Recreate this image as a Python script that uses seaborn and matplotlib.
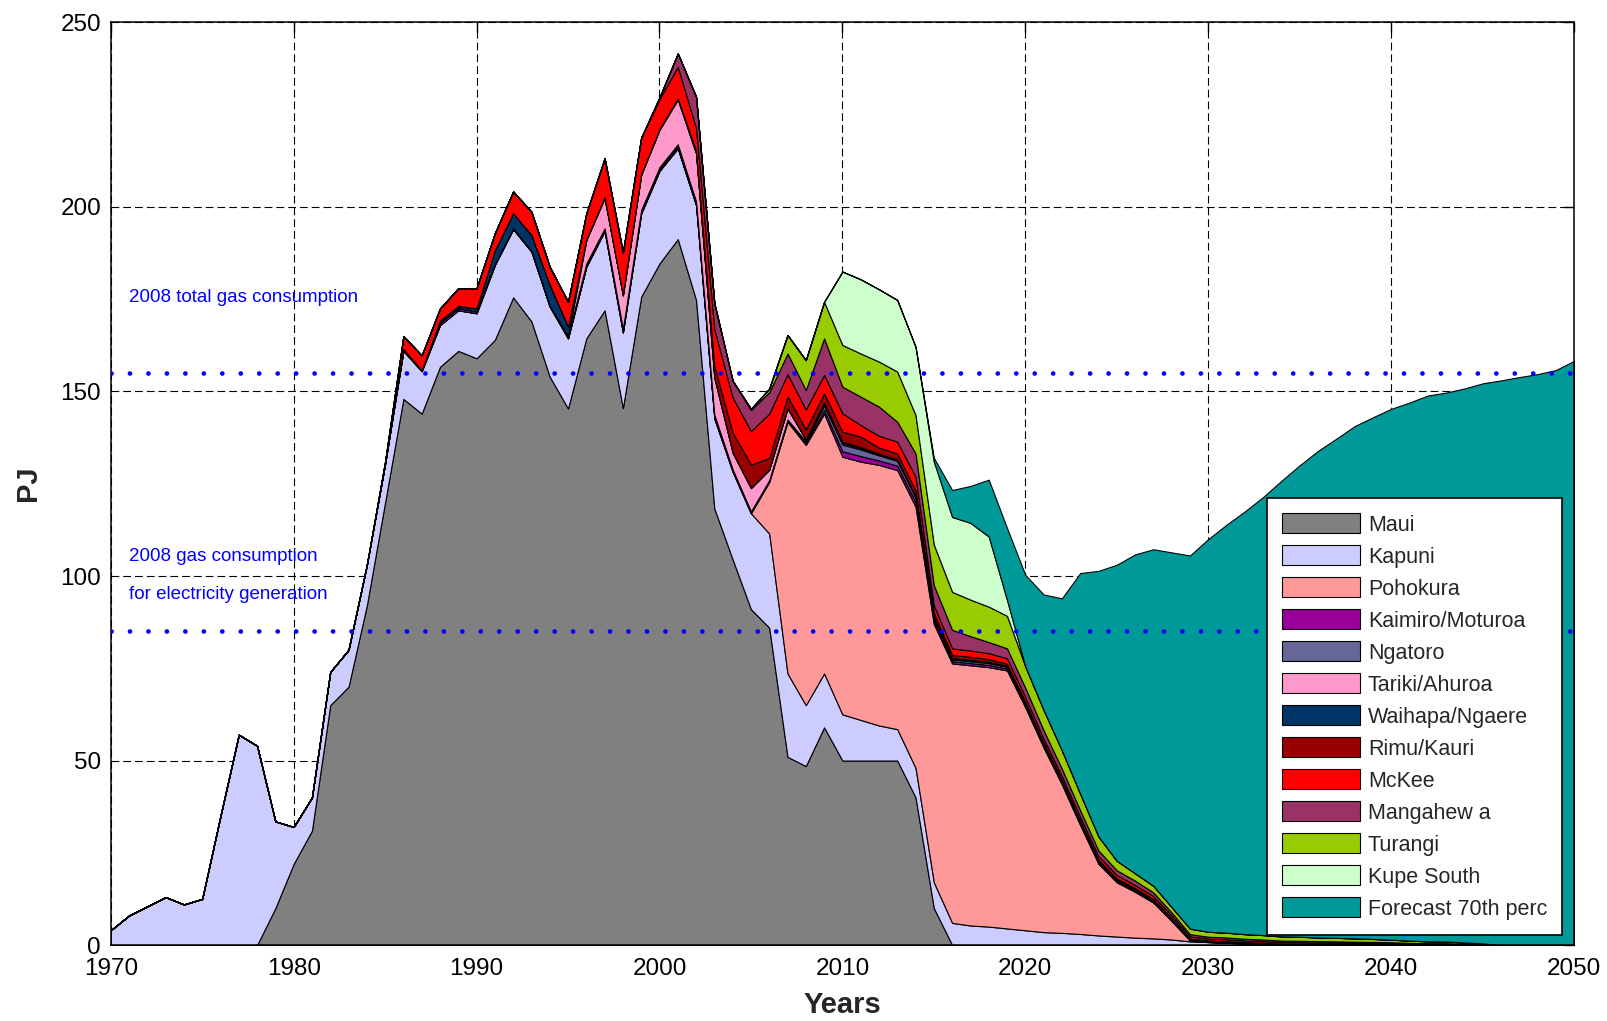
import numpy as np
import matplotlib
matplotlib.use("Agg")
import matplotlib.pyplot as plt
import seaborn as sns

# years covered by the chart
years = np.arange(1970, 2051)

# field production (PJ), each list starts at its own first year
maui_start = 1978
maui = [0, 10, 22, 31, 65, 70, 92, 120, 148, 144,
        156.7, 161, 159, 164, 175.5, 169, 154, 145.4, 164.4, 172,
        145.5, 175.7, 184.7, 191.3, 174.8, 118.3, 104.5, 91, 86, 51,
        48.5, 59, 50, 50, 50, 50, 40, 10, 0]

kapuni_start = 1970
kapuni = [4, 8, 10.5, 13, 11, 12.5, 35, 57, 54, 23.5,
          10, 9, 9, 10, 11, 10.5, 13, 11.5, 11.3, 11,
          12.2, 20.3, 18.5, 18.9, 19, 19, 19.4, 21.5, 20.5, 22.6,
          25.1, 24.6, 25.7, 24.4, 23.8, 26, 25.5, 22.6, 16.5, 14.6,
          12.5, 11, 9.5, 8.5, 8, 7, 6, 5.3, 5, 4.5,
          4, 3.5, 3.3, 3, 2.6, 2.3, 2, 1.8, 1.5, 1,
          0.8, 0.6, 0.4, 0.2, 0]

pohokura_start = 2005
pohokura = [0, 14, 68.2, 70.5, 70.4, 69.8, 70, 70.6, 70.2, 70.8,
            70, 70.3, 70.5, 70.3, 69.9, 60.4, 50, 40.2, 29.5, 19.4,
            14.7, 12.4, 9.7, 5, 0.2, 0]

kaimiro_start = 1985
kaimiro = [0, 0.5, 0.3, 0.7, 0.6, 0.5, 0.3, 0.2, 0.2, 0.2,
           0.4, 0.5, 0.4, 0.5, 0.5, 0.5, 0.6, 0.5, 0.5, 0.3,
           0.3, 0.3, 0.3, 0.5, 1.0, 1.5, 1.5, 1.2, 1.2, 1.2,
           0.8, 0.6, 0.6, 0.6, 0.5, 0.4, 0.4, 0.35, 0.3, 0.3,
           0.3, 0.3, 0.25, 0.2, 0.2, 0.2, 0.2, 0.2, 0.2, 0.2,
           0.15, 0.15, 0.15, 0.15, 0.1, 0.1, 0.1, 0.1, 0.1, 0.05,
           0.05, 0]

ngatoro_start = 1995
ngatoro = [0.3, 0.4, 0.3, 0.5, 0.4, 0.5, 0.5, 0.5, 0.5, 0.3,
           0.2, 0.2, 0.3, 0.5, 1.2, 1.8, 1.8, 1.4, 1.3, 1.2,
           0.8, 0.5, 0.5, 0.5, 0.5, 0.4, 0.3, 0.3, 0.3, 0.3,
           0.25, 0.25, 0.2, 0.2, 0.15, 0.15, 0.15, 0.1, 0.1, 0.1,
           0.1, 0.1, 0.05, 0.05, 0.05, 0.05, 0]

tariki_start = 1995
tariki = [0, 6.3, 8.2, 9, 9.5, 10.1, 12.1, 13, 10, 4.5,
          6.3, 2.8, 3, 0.4, 0.5, 0.4, 0.3, 0.2, 0.2, 0.2,
          0.2, 0.2, 0.2, 0.2, 0.1, 0.1, 0.1, 0.1, 0.1, 0.1,
          0.1, 0.1, 0.1, 0.1, 0]

waihapa_start = 1987
waihapa = [0, 0.5, 0.6, 0.8, 3.7, 4.1, 4.3, 5.7, 2.5, 0.2,
           0.2, 0.2, 0.2, 0.2, 0.3, 0.2, 0.2, 0.1, 0.1, 0.1,
           0.1, 0.1, 0.3, 0.4, 0.3, 0.2, 0.2, 0.2, 0.2, 0.2,
           0.2, 0.2, 0.1, 0.1, 0.1, 0.1, 0.1, 0.1, 0.1, 0.1,
           0.1, 0.1, 0]

rimu_start = 2002
rimu = [0.5, 3, 5.4, 6.3, 3.1, 3.2, 2.7, 2.5, 2.7, 2.9,
        1.7, 1.6, 1.5, 1, 0.8, 0.8, 0.7, 0.6, 0.5, 0.4,
        0.4, 0.4, 0.3, 0.3, 0.3, 0.3, 0.2, 0.2, 0.1, 0.1,
        0.1, 0.1, 0.1, 0.1, 0.1, 0.1, 0.1, 0.1, 0.1, 0]

mckee_start = 1984
mckee = [0, 0.5, 3.5, 4, 3.3, 4.8, 5.5, 4.6, 5.9, 6.3,
         4.9, 6.7, 7.1, 10.6, 11.5, 9.9, 8.1, 8.6, 6.2, 10,
         9.5, 9.1, 12, 6, 5.4, 5, 5, 3.1, 3.2, 3.2,
         3.8, 2, 1.8, 1.7, 1.6, 1.5, 1.3, 1.1, 1, 1,
         1, 0.9, 0.8, 0.8, 0.7, 0.6, 0.5, 0.5, 0.45, 0.45,
         0.4, 0.4, 0.35, 0.35, 0.3, 0.3, 0.25, 0.25, 0.2, 0.2,
         0.15, 0.1, 0]

mangahewa_start = 1999
mangahewa = [0, 0.5, 3.6, 8.5, 7, 4.5, 5.7, 5.8, 5.6, 5.3,
             9.9, 7.2, 7.7, 7.9, 5.4, 6.3, 5.5, 5, 3.9, 3,
             2.7, 2.5, 2.3, 2, 1.8, 1.5, 1.3, 1.2, 1, 0.8,
             0.6, 0.5, 0.5, 0.45, 0.45, 0.4, 0.4, 0.35, 0.35, 0.3,
             0.3, 0.25, 0.25, 0.2, 0.2, 0.15, 0.1, 0]

turangi_start = 2004
turangi = [0, 0.3, 1, 5, 8.1, 9.9, 11.3, 11.7, 12.2, 13.6,
           10.4, 11, 10.3, 9.9, 9.6, 8.8, 5.8, 5.5, 5, 4.5,
           3.8, 2.6, 2, 1.8, 1.5, 1.5, 1.35, 1.3, 1.25, 1.2,
           1.15, 1.1, 1.0, 0.95, 0.9, 0.8, 0.7, 0.6, 0.5, 0.45,
           0.35, 0.2, 0]

kupe_start = 2009
kupe = [0, 19.9, 20.1, 19.6, 19.4, 18.5, 22.5, 20.3, 20.8, 19,
        4.3, 0]

forecast_start = 2014
forecast = [0, 1, 7.3, 10, 15.4, 19.5, 24.8, 31.3, 41.2, 59.8,
            72, 80.2, 86.4, 91.2, 96.1, 101.1, 106.4, 110.55, 114.55, 118.7,
            123.45, 127.75, 131.85, 135.25, 138.8, 141.35, 143.85, 145.8, 147.9, 148.75,
            150.1, 151.75, 153, 153.9, 154.7, 155.8, 158.3]

names = ["Maui", "Kapuni", "Pohokura", "Kaimiro/Moturoa", "Ngatoro",
         "Tariki/Ahuroa", "Waihapa/Ngaere", "Rimu/Kauri", "McKee",
         "Mangahew a", "Turangi", "Kupe South", "Forecast 70th perc"]
colors = ["#808080", "#CCCCFF", "#FF9999", "#990099", "#666699",
          "#FF99CC", "#003366", "#990000", "#FF0000", "#993366",
          "#99CC00", "#CCFFCC", "#009999"]

# reference consumption levels (PJ)
total_2008 = 155
electricity_2008 = 85


def pad(start, vals):
    # put a field's values on the full year axis
    out = np.zeros(len(years))
    i = start - years[0]
    out[i:i + len(vals)] = vals
    return out


series = [pad(maui_start, maui), pad(kapuni_start, kapuni),
          pad(pohokura_start, pohokura), pad(kaimiro_start, kaimiro),
          pad(ngatoro_start, ngatoro), pad(tariki_start, tariki),
          pad(waihapa_start, waihapa), pad(rimu_start, rimu),
          pad(mckee_start, mckee), pad(mangahewa_start, mangahewa),
          pad(turangi_start, turangi), pad(kupe_start, kupe),
          pad(forecast_start, forecast)]

sns.set_style("white")
plt.rcParams['font.family'] = ['Liberation Sans', 'DejaVu Sans']

fig, ax = plt.subplots(figsize=(16.07, 10.21), dpi=100)
fig.subplots_adjust(left=0.0689, right=0.9795, top=0.978, bottom=0.0744)

ax.stackplot(years, *series, colors=colors, labels=names,
             edgecolor="black", linewidth=0.8, zorder=2)

# 2008 reference lines
for level in [total_2008, electricity_2008]:
    ax.axhline(level, color="#0000FF", linewidth=3.4,
               linestyle=(0, (0.01, 3.9)), dash_capstyle="round", zorder=5)

ax.text(1971, 175.5, "2008 total gas consumption", color="#0000FF",
        fontsize=13.5, va="center")
ax.text(1971, 105.3, "2008 gas consumption", color="#0000FF",
        fontsize=13.5, va="center")
ax.text(1971, 95, "for electricity generation", color="#0000FF",
        fontsize=13.5, va="center")

ax.set_xlim(1970, 2050)
ax.set_ylim(0, 250)
ax.set_xticks(np.arange(1970, 2051, 10))
ax.set_yticks(np.arange(0, 251, 50))
ax.grid(True, color="black", linestyle=(0, (7, 3.6)), linewidth=0.8)
ax.set_axisbelow(True)
ax.tick_params(direction="in", length=7, width=1, labelsize=17.5,
               top=True, right=True, colors="black")
ax.tick_params(axis="x", pad=9)
ax.tick_params(axis="y", pad=7)
for sp in ax.spines.values():
    sp.set_color("black")
    sp.set_linewidth(1.1)

ax.set_xlabel("Years", fontsize=21, fontweight="bold", labelpad=8)
ax.set_ylabel("PJ", fontsize=21, fontweight="bold", labelpad=13)

leg = ax.legend(loc="lower right", bbox_to_anchor=(0.992, 0.011),
                borderaxespad=0, fontsize=15.5, frameon=True, fancybox=False,
                edgecolor="black", framealpha=1, handlelength=3.65,
                handleheight=1.05, labelspacing=0.45, borderpad=0.7,
                handletextpad=0.35)
leg.get_frame().set_linewidth(1.2)
leg.set_zorder(10)

fig.savefig("out.png", dpi=100, facecolor="white")
